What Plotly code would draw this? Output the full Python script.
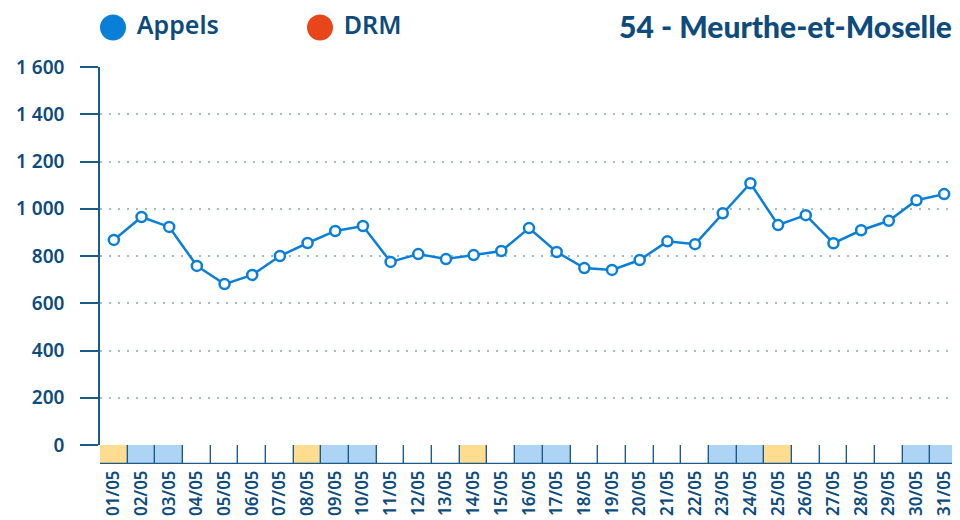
import plotly.graph_objects as go

# Appels par jour - mai
days = [f"{d:02d}/05" for d in range(1, 32)]
appels = [868, 965, 923, 758, 681, 720, 800, 855, 906, 927,
          775, 808, 787, 804, 821, 918, 817, 749, 741, 783,
          862, 850, 981, 1108, 931, 973, 854, 909, 949, 1036, 1062]
# type de jour : F = férié, W = week-end, N = normal
day_type = ["F", "W", "W", "N", "N", "N", "N", "F", "W", "W",
            "N", "N", "N", "F", "N", "W", "W", "N", "N", "N",
            "N", "N", "W", "W", "F", "N", "N", "N", "N", "W", "W"]
legend_labels = ["Appels", "DRM"]
legend_colors = ["#0a7fd8", "#e8451a"]
title = "54 - Meurthe-et-Moselle"

TXT = "#0d4b7c"
DARK = "#1c5a88"
cell_colors = {"F": "#fedd90", "W": "#aed4f5", "N": "#ffffff"}

# la page html a une marge de 8px : on travaille en 952x512
W, H = 952, 512
ML, MR, MT, MB = 92, 2, 5, 56
plot_h = H - MT - MB
def yfrac(px):
    return (H - MB - px) / plot_h

fig = go.Figure()

# bande des jours sous l'axe
fig.add_trace(go.Bar(
    x=days, y=[1] * len(days), xaxis="x", yaxis="y2",
    marker=dict(color=[cell_colors[t] for t in day_type],
                line=dict(color=DARK, width=1.2)),
    width=1, showlegend=False, hoverinfo="skip"))

fig.add_trace(go.Scatter(
    x=days, y=appels, xaxis="x", yaxis="y", mode="lines+markers",
    name="Appels", showlegend=False, cliponaxis=False,
    line=dict(color="#0a7fd8", width=2.5),
    marker=dict(size=10, color="white", line=dict(color="#0a7fd8", width=2.5))))

# légende
fig.add_trace(go.Scatter(
    x=[105, 312], y=[0.5, 0.5], xaxis="x3", yaxis="y3",
    mode="markers+text", text=[" " + t for t in legend_labels],
    textposition="middle right", cliponaxis=False,
    textfont=dict(size=25, color=TXT, family="Noto Sans", weight=600),
    marker=dict(size=26, color=legend_colors),
    showlegend=False, hoverinfo="skip"))

fig.update_layout(
    width=W, height=H,
    margin=dict(l=ML, r=MR, t=MT, b=MB, autoexpand=False),
    plot_bgcolor="white", paper_bgcolor="white",
    separators=", ",
    font=dict(family="Noto Sans", color=TXT),
    xaxis=dict(type="category", anchor="y2", range=[-0.5, 30.5], automargin=False,
               tickangle=-90, showgrid=False, ticks="", showline=False,
               tickfont=dict(size=17, color=TXT, weight=600),
               ticklabelstandoff=2),
    yaxis=dict(domain=[yfrac(437), yfrac(59)], anchor="x", range=[0, 1600],
               automargin=False,
               dtick=200, tickformat=",d", showline=True, linecolor=DARK,
               linewidth=1.5, ticks="outside", ticklen=18, tickcolor=DARK,
               tickwidth=1.5, ticklabelstandoff=12, zeroline=False,
               showgrid=True, gridcolor="#a3bccf", griddash="2px,7px", gridwidth=1.5,
               tickfont=dict(size=19, color=TXT, weight=600)),
    yaxis2=dict(domain=[0, yfrac(437)], anchor="x", range=[0, 1],
                visible=False),
    xaxis3=dict(domain=[0, 1], anchor="y3", range=[ML, W - MR], visible=False),
    yaxis3=dict(domain=[yfrac(34), yfrac(5)], anchor="x3", range=[0, 1],
                visible=False),
    bargap=0,
    annotations=[dict(text=title, xref="paper", yref="paper", x=1, y=yfrac(18),
                      xanchor="right", yanchor="middle", showarrow=False, xshift=-4,
                      font=dict(family="Lato", size=30, color=TXT, weight=900))],
)

fig.write_html("out.html")
